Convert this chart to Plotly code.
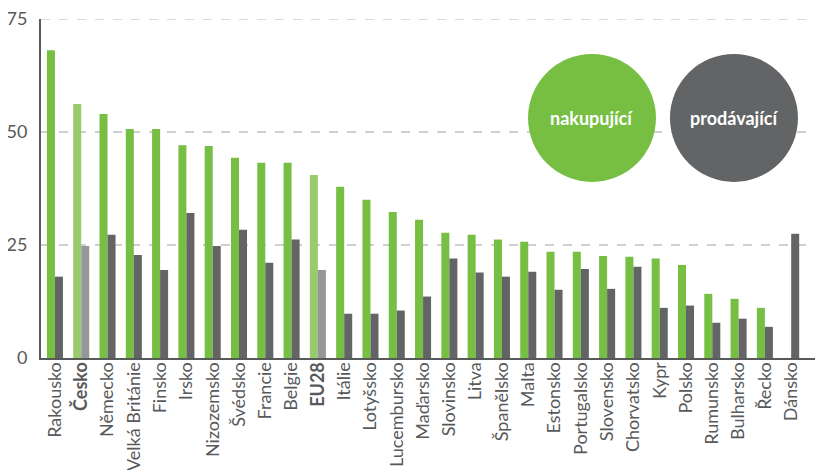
import plotly.graph_objects as go

zeme = ["Rakousko", "Česko", "Německo", "Velká Británie", "Finsko", "Irsko",
        "Nizozemsko", "Švédsko", "Francie", "Belgie", "EU28", "Itálie",
        "Lotyšsko", "Lucembursko", "Maďarsko", "Slovinsko", "Litva",
        "Španělsko", "Malta", "Estonsko", "Portugalsko", "Slovensko",
        "Chorvatsko", "Kypr", "Polsko", "Rumunsko", "Bulharsko", "Řecko",
        "Dánsko"]

nakupujici = [68.1, 56.2, 54.0, 50.7, 50.7, 47.1, 46.9, 44.3, 43.2, 43.2,
              40.5, 37.9, 35.0, 32.3, 30.6, 27.7, 27.3, 26.2, 25.7, 23.5,
              23.5, 22.6, 22.4, 22.0, 20.6, 14.2, 13.1, 11.1, None]

prodavajici = [18.0, 24.8, 27.3, 22.8, 19.5, 32.1, 24.8, 28.4, 21.1, 26.2,
               19.5, 9.8, 9.8, 10.5, 13.6, 22.0, 18.9, 18.0, 19.1, 15.1,
               19.7, 15.3, 20.2, 11.1, 11.6, 7.8, 8.7, 6.9, 27.5]

osa_y = [0, 25, 50, 75]

zvyraznene = ["Česko", "EU28"]

ZELENA = "#76bf43"
ZELENA_SVETLA = "#97cb6e"
SEDA = "#636466"
SEDA_SVETLA = "#97979b"
TEXT = "#58595b"
MRIZKA = "#cfcfcf"

barvy_nak = [ZELENA_SVETLA if z in zvyraznene else ZELENA for z in zeme]
barvy_prod = [SEDA_SVETLA if z in zvyraznene else SEDA for z in zeme]
popisky = [f"<b>{z}</b>" if z in zvyraznene else z for z in zeme]

fig = go.Figure()
fig.add_trace(go.Bar(x=zeme, y=nakupujici, name="nakupující",
                     marker=dict(color=barvy_nak, line=dict(width=0))))
fig.add_trace(go.Bar(x=zeme, y=prodavajici, name="prodávající",
                     marker=dict(color=barvy_prod, line=dict(width=0))))

# plotly nekresli mrizku na samem kraji osy, dokreslime ji
fig.add_hline(y=osa_y[-1], line=dict(color=MRIZKA, width=1.5, dash="dash"),
              layer="below")

# legenda jako dva kruhy
for x0, x1, barva, text in [(0.6228, 0.7864, ZELENA, "nakupující"),
                            (0.8043, 0.9680, SEDA, "prodávající")]:
    fig.add_shape(type="circle", xref="paper", yref="paper",
                  x0=x0, x1=x1, y0=0.5192, y1=0.8968,
                  fillcolor=barva, line=dict(width=0), layer="above")
    fig.add_annotation(x=(x0 + x1) / 2, y=0.708, xref="paper", yref="paper",
                       xanchor="center", yanchor="middle",
                       text=f"<b>{text}</b>", showarrow=False,
                       font=dict(family="Lato", size=18, color="white"))

# stranka ma okraj 8 px, proto je obrazek o 8 px mensi
fig.update_layout(
    width=815, height=462,
    margin=dict(l=33, r=0, t=11, b=112),
    barmode="group", bargap=0.39, bargroupgap=0,
    showlegend=False,
    plot_bgcolor="white", paper_bgcolor="white",
    font=dict(family="Lato", color=TEXT),
)
fig.update_xaxes(
    range=[-0.53, 29.21],
    tickmode="array", tickvals=zeme, ticktext=popisky,
    tickangle=-90, tickfont=dict(size=18, color=TEXT),
    showline=True, linecolor="#58595b", linewidth=2,
    ticks="", showgrid=False, automargin=False, ticklabelstandoff=-5,
)
fig.update_yaxes(
    range=[0, 75.02], tickvals=osa_y,
    tickfont=dict(size=18, color=TEXT), ticklabeloverflow="allow",
    showline=True, linecolor="#58595b", linewidth=2,
    showgrid=True, gridcolor=MRIZKA, griddash="dash", gridwidth=1.5,
    zeroline=False, ticks="", ticklabelstandoff=8, automargin=False,
)

fig.write_html("out.html")
